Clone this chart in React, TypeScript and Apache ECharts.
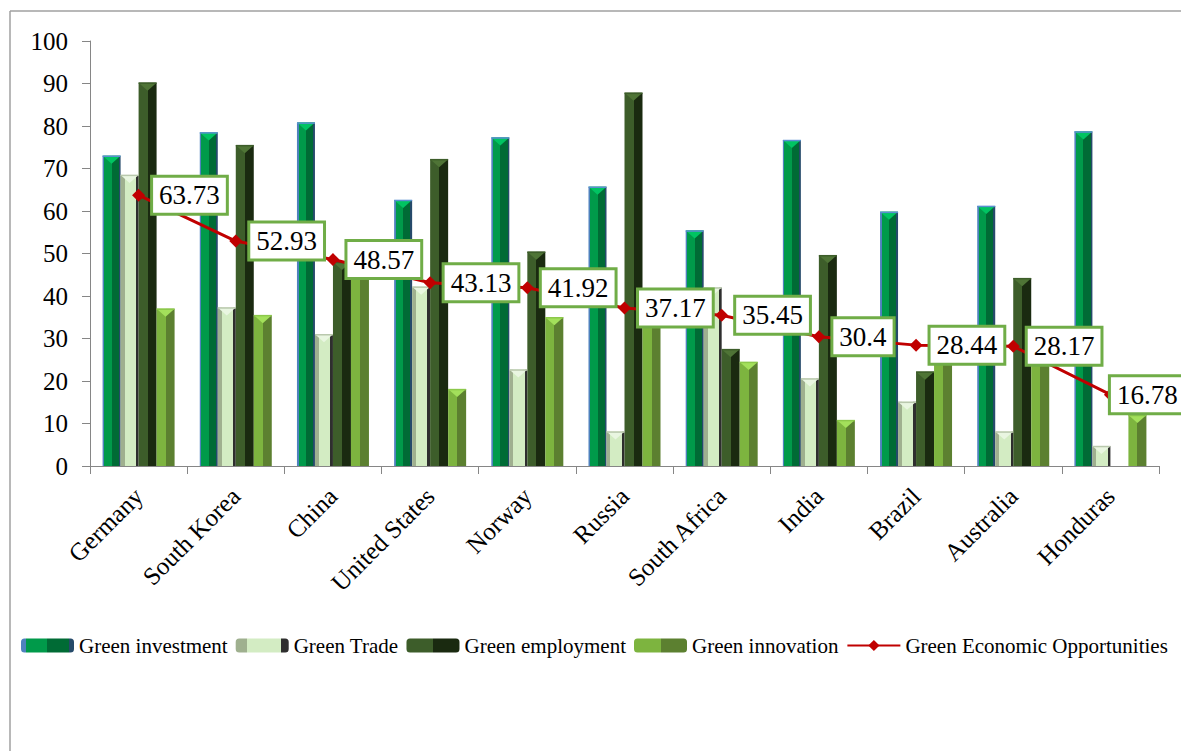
import React, { useEffect, useRef } from "react";
import * as echarts from "echarts";

const categories = ["Germany", "South Korea", "China", "United States", "Norway", "Russia", "South Africa", "India", "Brazil", "Australia", "Honduras"];
const investment = [73, 78.5, 80.8, 62.6, 77.3, 65.7, 55.4, 76.7, 59.8, 61.2, 78.7];
const trade = [68.5, 37.3, 31, 42.2, 22.7, 8.1, 42, 20.6, 15.1, 8.1, 4.7];
const employment = [90.2, 75.5, 48, 72.2, 50.4, 87.8, 27.5, 49.6, 22.2, 44.2, 0];
const innovation = [37, 35.5, 46, 18.1, 35, 35, 24.5, 10.8, 26, 26, 12];
const opportunities = [63.73, 52.93, 48.57, 43.13, 41.92, 37.17, 35.45, 30.4, 28.44, 28.17, 16.78];
const yTicks = [0, 10, 20, 30, 40, 50, 60, 70, 80, 90, 100];

const FONT = '"Liberation Serif", "Times New Roman", serif';
const BAR_W = 18;

function grad(stops: [number, string][]) {
  return new echarts.graphic.LinearGradient(
    0, 0, 1, 0,
    stops.map(([offset, color]) => ({ offset, color }))
  );
}

const invFill = grad([
  [0, "#4f81bd"], [0.09, "#4f81bd"], [0.09, "#009a4a"], [0.5, "#009a4a"],
  [0.5, "#006b35"], [0.9, "#006b35"], [0.9, "#254a6a"], [1, "#254a6a"],
]);
const tradeFill = grad([
  [0, "#9fb08f"], [0.22, "#9fb08f"], [0.22, "#d3ecc3"], [0.85, "#d3ecc3"],
  [0.85, "#2e2e2e"], [1, "#2e2e2e"],
]);
const empFill = grad([
  [0, "#3d5d2a"], [0.5, "#3d5d2a"], [0.5, "#1a2a10"], [1, "#1a2a10"],
]);
const innFill = grad([
  [0, "#7db43f"], [0.5, "#7db43f"], [0.5, "#5c8030"], [1, "#5c8030"],
]);

function capSeries(values: number[], k: number, color: string, rim: string) {
  return {
    type: "custom",
    z: 3,
    silent: true,
    data: values.map((v, i) => [i, v]),
    encode: { x: 0, y: 1 },
    renderItem: (params: any, api: any) => {
      const v = api.value(1);
      if (!v) return null;
      const p = api.coord([api.value(0), v]);
      const x0 = p[0] - 2 * BAR_W + k * BAR_W;
      const y = p[1];
      return {
        type: "group",
        children: [
          {
            type: "polygon",
            shape: { points: [[x0, y], [x0 + BAR_W, y], [x0 + BAR_W / 2, y + 8]] },
            style: { fill: color },
          },
          {
            type: "line",
            shape: { x1: x0, y1: y + 0.5, x2: x0 + BAR_W, y2: y + 0.5 },
            style: { stroke: rim, lineWidth: 1.5 },
          },
        ],
      };
    },
  };
}

export default function App() {
  const ref = useRef<HTMLDivElement>(null);
  useEffect(() => {
    if (!ref.current) return;
    const chart = echarts.init(ref.current, null, { renderer: "svg" });
    const last = opportunities.length - 1;
    const barBase = { type: "bar", barWidth: BAR_W, barGap: "0%", z: 2 };
    chart.setOption({
      animation: false,
      backgroundColor: "#ffffff",
      textStyle: { fontFamily: FONT },
      graphic: [
        { type: "line", shape: { x1: 10, y1: 11, x2: 1181, y2: 11 }, style: { stroke: "#a0a0a0", lineWidth: 1.5 } },
        { type: "line", shape: { x1: 10, y1: 11, x2: 10, y2: 751 }, style: { stroke: "#a0a0a0", lineWidth: 1.5 } },
      ],
      grid: { left: 90, right: 22, top: 41, bottom: 285, containLabel: false },
      legend: {
        left: 21,
        top: 635,
        width: 1400,
        padding: 0,
        itemWidth: 53,
        itemHeight: 14,
        itemGap: 8,
        textStyle: { fontFamily: FONT, fontSize: 21, color: "#000" },
        data: ["Green investment", "Green Trade", "Green employment", "Green innovation", "Green Economic Opportunities"],
      },
      xAxis: {
        type: "category",
        data: categories,
        axisLine: { lineStyle: { color: "#868686", width: 1 } },
        axisTick: { show: true, length: 8, lineStyle: { color: "#868686" } },
        axisLabel: { rotate: 45, fontSize: 25, fontFamily: FONT, color: "#000", margin: 26, interval: 0 },
      },
      yAxis: {
        type: "value",
        min: 0,
        max: 100,
        interval: 10,
        axisLine: { show: true, lineStyle: { color: "#868686", width: 1 } },
        axisTick: { show: true, length: 8, lineStyle: { color: "#868686" } },
        splitLine: { show: false },
        axisLabel: {
          fontSize: 25,
          fontFamily: FONT,
          color: "#000",
          margin: 22,
          formatter: (v: number) => (yTicks.includes(v) ? String(v) : ""),
        },
      },
      series: [
        { ...barBase, name: "Green investment", data: investment, itemStyle: { color: invFill } },
        { ...barBase, name: "Green Trade", data: trade, itemStyle: { color: tradeFill } },
        { ...barBase, name: "Green employment", data: employment, itemStyle: { color: empFill } },
        { ...barBase, name: "Green innovation", data: innovation, itemStyle: { color: innFill } },
        capSeries(investment, 0, "#00c462", "#5b8fd0"),
        capSeries(trade, 1, "#e9f6e1", "#b9c8ad"),
        capSeries(employment, 2, "#4f7436", "#3d5d2a"),
        capSeries(innovation, 3, "#a3e05b", "#8cc84b"),
        {
          type: "line",
          name: "Green Economic Opportunities",
          z: 10,
          data: opportunities.map((v, i) =>
            i === last ? { value: v, label: { offset: [-14, 0] } } : v
          ),
          symbol: "diamond",
          symbolSize: 13,
          lineStyle: { color: "#c00000", width: 3 },
          itemStyle: { color: "#c00000" },
          label: {
            show: true,
            position: "right",
            distance: 8,
            fontSize: 27,
            fontFamily: FONT,
            color: "#000",
            backgroundColor: "#ffffff",
            borderColor: "#70ad47",
            borderWidth: 3,
            padding: [5, 6, 3, 6],
            formatter: (p: any) => String(p.value),
          },
        },
      ],
    });
    return () => chart.dispose();
  }, []);
  return (
    <div
      ref={ref}
      style={{ position: "fixed", left: 0, top: 0, width: 1181, height: 751 }}
    />
  );
}
